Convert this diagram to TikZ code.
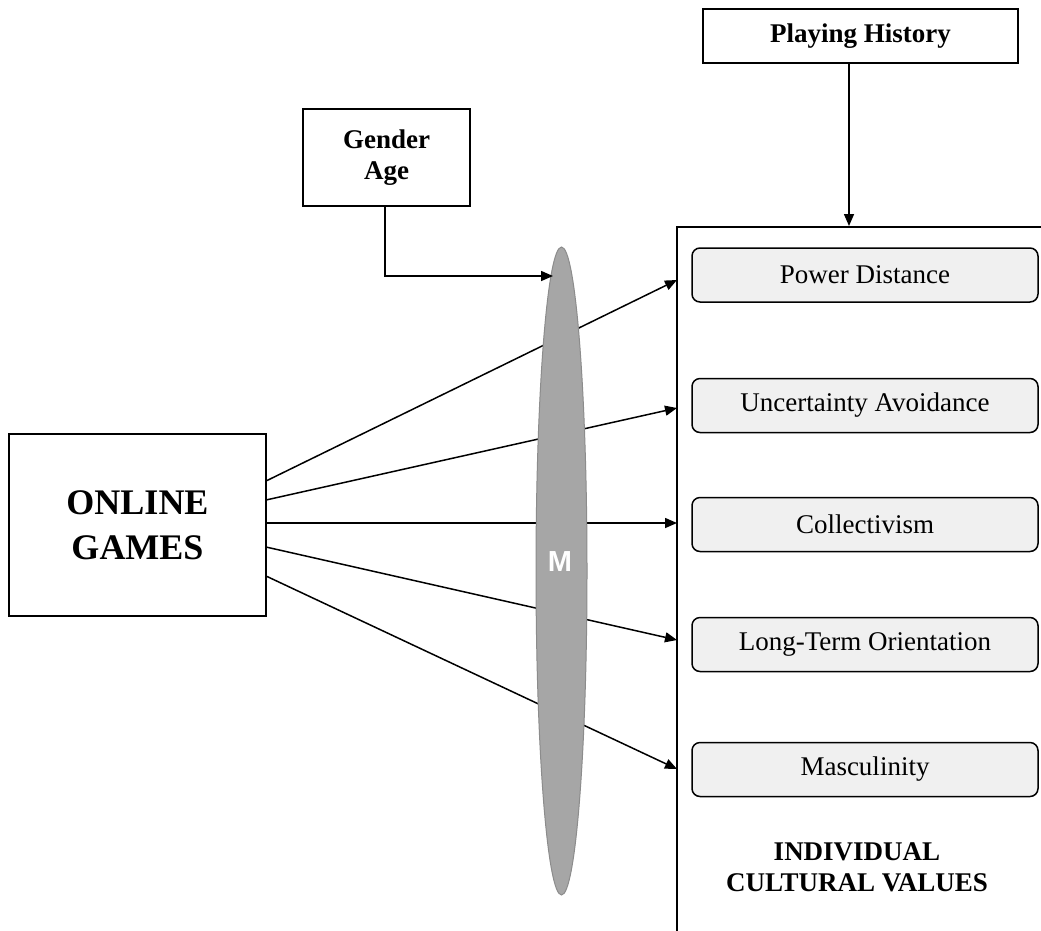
\documentclass[tikz,border=0pt]{standalone}
\usepackage{fontspec}
\setmainfont{Liberation Serif}
\newfontfamily\arialfont{Liberation Sans}
\usetikzlibrary{shapes.geometric,arrows.meta}
\begin{document}
\begin{tikzpicture}[x=1pt,y=-1pt,
  line width=1.5pt,
  arr/.style={-{Triangle[length=12pt,width=10pt]}},
  plainbox/.style={draw, rectangle, inner sep=0pt, align=center},
  valbox/.style={draw, rectangle, rounded corners=8pt, fill=black!6, inner sep=0pt,
     minimum width=346pt, minimum height=54pt, font=\fontsize{27}{31}\selectfont},
  boldtxt/.style={font=\fontsize{27}{31}\selectfont\bfseries, align=center, inner sep=0pt}
]
\useasboundingbox (0,0) rectangle (1041,930);
\clip (0,0) rectangle (1041,930);
\fill[white] (0,0) rectangle (1041,930);

% big container (cut off at right and bottom)
\node[draw, rectangle, inner sep=0pt, anchor=north west, minimum width=500pt, minimum height=800pt] (cv) at (676,226) {};

% top boxes
\node[plainbox, minimum width=315pt, minimum height=54pt, font=\fontsize{27}{31}\selectfont\bfseries] (ph) at (860.5,36) {Playing History};
\node[plainbox, minimum width=167pt, minimum height=97pt, font=\fontsize{27}{31}\selectfont\bfseries] (ga) at (386.5,157.5) {Gender\\Age};

% online games
\node[plainbox, minimum width=257pt, minimum height=182pt, font=\fontsize{36}{45}\selectfont\bfseries] (og) at (137.5,525) {ONLINE\\GAMES};

% value boxes
\node[valbox] (pd) at (865,275) {Power Distance};
\node[valbox] (ua) at (865,405.5) {Uncertainty Avoidance};
\node[valbox] (co) at (865,524.5) {Collectivism};
\node[valbox] (lt) at (865,644.5) {Long-Term Orientation};
\node[valbox] (ma) at (865,769.5) {Masculinity};

\node[boldtxt] (icv) at (857,867) {INDIVIDUAL\\CULTURAL VALUES};

% connector endpoints
\coordinate (s1) at (266,481);
\coordinate (s2) at (266,500);
\coordinate (s3) at (266,523);
\coordinate (s4) at (266,547);
\coordinate (s5) at (266,576);
\coordinate (t1) at (677,280);
\coordinate (t2) at (677,408);
\coordinate (t3) at (677,523);
\coordinate (t4) at (677,640);
\coordinate (t5) at (677,769);

\draw[arr] (s1) -- (t1);
\draw[arr] (s2) -- (t2);
\draw[arr] (s3) -- (t3);
\draw[arr] (s4) -- (t4);
\draw[arr] (s5) -- (t5);

% moderator ellipse
\node[ellipse, draw=black!45, line width=1pt, fill=black!35, inner sep=0pt, minimum width=51pt, minimum height=648pt] (M) at (561.5,571) {};
\node[font=\fontsize{29}{33}\selectfont\arialfont\bfseries, text=white, inner sep=0pt] (mlabel) at (560,562) {M};

\coordinate (gaend) at (553,276);
\draw[arr] (ga.south -| 385,0) |- (gaend);

\draw[arr] ([xshift=-11.5pt]ph.south) -- ([xshift=-11.5pt]ph.south |- cv.north);
\end{tikzpicture}
\end{document}
